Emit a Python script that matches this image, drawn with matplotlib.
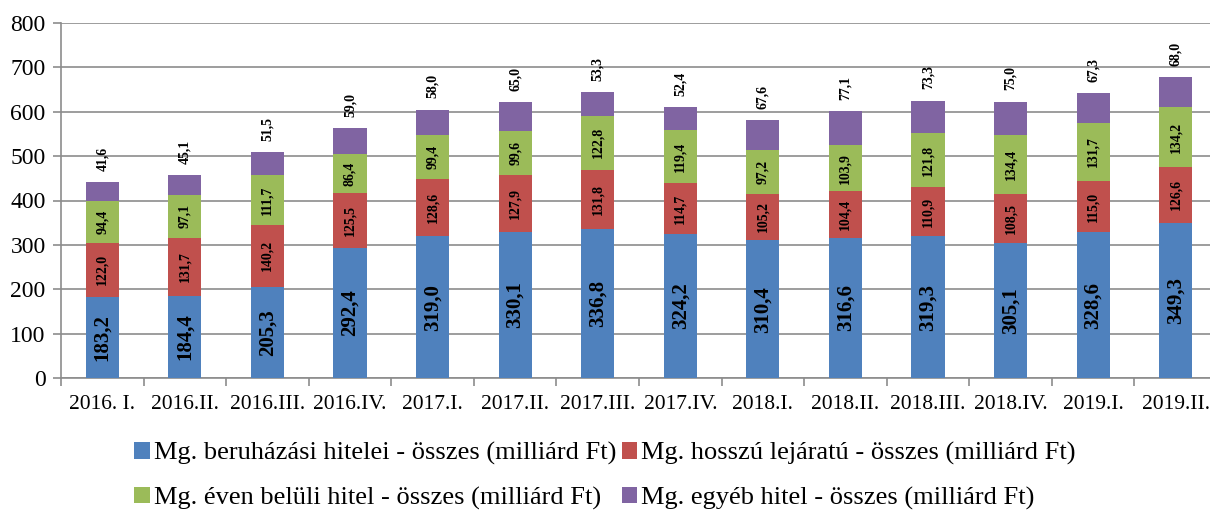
import matplotlib.pyplot as plt
import numpy as np

plt.rcParams['font.family'] = ['Liberation Serif', 'DejaVu Serif']

periods = ["2016. I.", "2016.II.", "2016.III.", "2016.IV.", "2017.I.", "2017.II.", "2017.III.",
           "2017.IV.", "2018.I.", "2018.II.", "2018.III.", "2018.IV.", "2019.I.", "2019.II."]
beruhazasi = [183.2, 184.4, 205.3, 292.4, 319.0, 330.1, 336.8, 324.2, 310.4, 316.6, 319.3, 305.1, 328.6, 349.3]
hosszu = [122.0, 131.7, 140.2, 125.5, 128.6, 127.9, 131.8, 114.7, 105.2, 104.4, 110.9, 108.5, 115.0, 126.6]
even_beluli = [94.4, 97.1, 111.7, 86.4, 99.4, 99.6, 122.8, 119.4, 97.2, 103.9, 121.8, 134.4, 131.7, 134.2]
egyeb = [41.6, 45.1, 51.5, 59.0, 58.0, 65.0, 53.3, 52.4, 67.6, 77.1, 73.3, 75.0, 67.3, 68.0]

series = [
    ("Mg. beruházási hitelei - összes (milliárd Ft)", beruhazasi, "#4F81BD"),
    ("Mg. hosszú lejáratú - összes (milliárd Ft)", hosszu, "#C0504D"),
    ("Mg. éven belüli hitel - összes (milliárd Ft)", even_beluli, "#9BBB59"),
    ("Mg. egyéb hitel - összes (milliárd Ft)", egyeb, "#8064A2"),
]

fig = plt.figure(figsize=(12.1, 5.12), dpi=100)
ax = fig.add_axes([61 / 1210, 134 / 512, 1156 / 1210, 355 / 512])

x = np.arange(len(periods))
bottom = np.zeros(len(periods))
bars = []
for i, (name, vals, col) in enumerate(series):
    vals = np.array(vals)
    b = ax.bar(x, vals, 0.4, bottom=bottom, color=col, label=name, zorder=3)
    bars.append(b)
    for xi, v, b0 in zip(x, vals, bottom):
        txt = f"{v:.1f}".replace(".", ",")
        if i == 0:
            ax.text(xi, b0 + v / 2, txt, rotation=90, ha='center', va='center',
                    fontsize=15, fontweight='bold', zorder=4)
        elif i < 3:
            ax.text(xi, b0 + v / 2, txt, rotation=90, ha='center', va='center',
                    fontsize=10, fontweight='bold', zorder=4)
        else:
            ax.annotate(txt, (xi, b0 + v), xytext=(0, 8), textcoords='offset points',
                        rotation=90, ha='center', va='bottom', fontsize=10, fontweight='bold')
    bottom += vals

ax.set_ylim(0, 800)
ax.set_xlim(-0.5, 13.5)
ax.set_yticks(range(0, 801, 100))
ax.yaxis.grid(True, color='#8c8c8c', linewidth=1.2, zorder=0)
ax.set_xticks(x)
ax.set_xticklabels(periods, fontsize=15.5)
ax.set_xticks(np.arange(-0.5, 14, 1), minor=True)
ax.tick_params(axis='x', which='major', length=0, pad=12)
ax.tick_params(axis='x', which='minor', length=6, color='#8c8c8c', width=1.2)
ax.tick_params(axis='y', labelsize=17, length=6, color='#8c8c8c', width=1.2, pad=5)
for s in ['top', 'right']:
    ax.spines[s].set_visible(False)
for s in ['left', 'bottom']:
    ax.spines[s].set_color('#8c8c8c')
    ax.spines[s].set_linewidth(1.2)

# legend fills column-wise, so reorder to get row-wise order
order = [0, 2, 1, 3]
fig.legend(handles=[bars[k] for k in order], loc='center', bbox_to_anchor=(0.5, 36 / 512), ncol=2,
           frameon=False, fontsize=19, handlelength=0.6, handleheight=0.6,
           handletextpad=0.15, columnspacing=0.2, labelspacing=0.8, borderpad=0)

plt.savefig('out.png', dpi=100)
